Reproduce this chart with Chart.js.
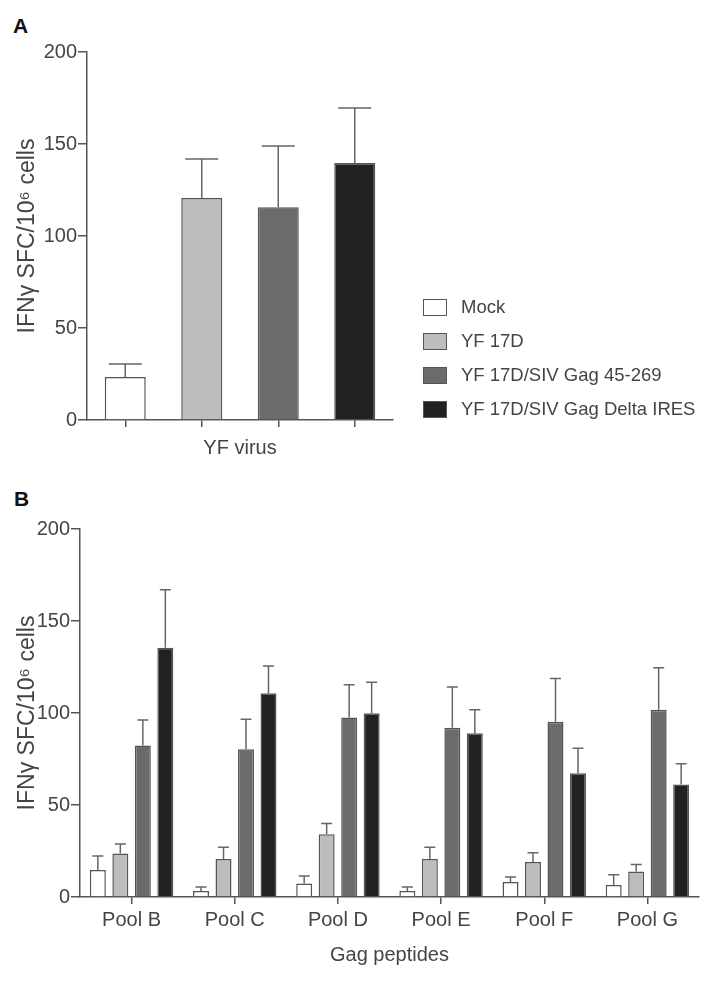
<!DOCTYPE html>
<html>
<head>
<meta charset="utf-8">
<script src="https://cdn.jsdelivr.net/npm/chart.js@4.4.1/dist/chart.umd.min.js"></script>
<style>
  body { margin: 0; background: #fff; font-family: "Liberation Sans", Arial, sans-serif; }
  #wrap { position: relative; width: 714px; height: 981px; }
  canvas { position: absolute; left: 0; }
  .tag { position: absolute; font-weight: bold; font-size: 21px; color: #111; line-height: 1; }
  #legend { position: absolute; left: 423px; top: 290px; }
  .item { display: flex; align-items: center; height: 34px; font-size: 18.5px; color: #444; white-space: nowrap; }
  .box { width: 22px; height: 15px; border: 1.5px solid #555; margin-right: 14px; }
</style>
</head>
<body>
<div id="wrap">
  <div class="tag" style="left:13px; top:15px;">A</div>
  <div class="tag" style="left:14px; top:488px;">B</div>
  <canvas id="chartA" width="714" height="470" style="top:0;"></canvas>
  <canvas id="chartB" width="714" height="511" style="top:470px;"></canvas>
  <div id="legend"></div>
</div>
<script>
// groups / series
const seriesNames = ['Mock', 'YF 17D', 'YF 17D/SIV Gag 45-269', 'YF 17D/SIV Gag Delta IRES'];
const seriesColors = ['#ffffff', '#bdbdbd', '#6b6b6b', '#222222'];
const pools = ['Pool B', 'Pool C', 'Pool D', 'Pool E', 'Pool F', 'Pool G'];
const yTicks = [0, 50, 100, 150, 200];

// panel A: YF virus (mean, SEM)
const aMean = [23.4, 120.7, 115.6, 139.7];
const aSem = [7.0, 21.1, 33.3, 29.8];

// panel B: Gag peptide pools (mean, SEM) per series
const mockMean = [14.7, 3.3, 7.4, 3.3, 8.2, 6.5];
const mockSem = [7.6, 2.1, 4.0, 2.1, 2.7, 5.6];
const yfMean = [23.7, 20.7, 34.1, 20.7, 19.0, 13.8];
const yfSem = [5.1, 6.3, 5.9, 6.3, 5.1, 3.8];
const gag45Mean = [82.4, 80.3, 97.6, 92.0, 95.3, 101.8];
const gag45Sem = [13.8, 16.3, 17.8, 22.1, 23.4, 22.8];
const deltaMean = [135.5, 110.7, 99.8, 89.0, 67.2, 61.2];
const deltaSem = [31.5, 14.8, 16.9, 12.8, 13.6, 11.2];

const axisColor = '#555';
const textColor = '#444';
const yTitle = 'IFNγ SFC/10⁶ cells';

// upper error bars with caps
const errorBars = {
  id: 'errorBars',
  afterDatasetsDraw(chart, args, opts) {
    const ctx = chart.ctx;
    const y = chart.scales.y;
    ctx.save();
    ctx.strokeStyle = '#666';
    ctx.lineWidth = 1.5;
    chart.data.datasets.forEach((ds, i) => {
      chart.getDatasetMeta(i).data.forEach((bar, j) => {
        const top = y.getPixelForValue(ds.data[j] + ds.sem[j]);
        ctx.beginPath();
        ctx.moveTo(bar.x, bar.y);
        ctx.lineTo(bar.x, top);
        ctx.moveTo(bar.x - opts.cap / 2, top);
        ctx.lineTo(bar.x + opts.cap / 2, top);
        ctx.stroke();
      });
    });
    ctx.restore();
  }
};

function yScale(width) {
  return {
    min: 0, max: 200,
    afterBuildTicks: s => { s.ticks = yTicks.map(v => ({ value: v })); },
    afterFit: s => { s.width = width; },
    ticks: { color: textColor, font: { size: 20 }, padding: 1 },
    grid: { drawOnChartArea: false, tickLength: 9, color: axisColor, lineWidth: 1.5 },
    border: { color: axisColor, width: 1.5 },
    title: { display: true, text: yTitle, color: textColor, font: { size: 23 }, padding: { top: 14 } }
  };
}

function xScale(height, title, showLabels, titlePad) {
  return {
    offset: true,
    afterFit: s => { s.height = height; },
    ticks: { display: showLabels, color: textColor, font: { size: 20 }, padding: 4, maxRotation: 0 },
    grid: { offset: false, drawOnChartArea: false, tickLength: 7, color: axisColor, lineWidth: 1.5 },
    border: { color: axisColor, width: 1.5 },
    title: { display: true, text: title, color: textColor, font: { size: 20 }, padding: { bottom: titlePad } }
  };
}

new Chart(document.getElementById('chartA'), {
  type: 'bar',
  data: {
    labels: seriesNames,
    datasets: [{
      data: aMean, sem: aSem,
      backgroundColor: seriesColors, borderColor: axisColor, borderWidth: 1.5,
      categoryPercentage: 1.0, barPercentage: 0.536
    }]
  },
  options: {
    responsive: false, animation: false,
    layout: { padding: { top: 52, right: 321, bottom: 0, left: 0 } },
    plugins: { legend: { display: false }, tooltip: { enabled: false }, errorBars: { cap: 33 } },
    scales: { x: xScale(50, 'YF virus', false, 10), y: yScale(87) }
  },
  plugins: [errorBars]
});

const bMeans = [mockMean, yfMean, gag45Mean, deltaMean];
const bSems = [mockSem, yfSem, gag45Sem, deltaSem];

new Chart(document.getElementById('chartB'), {
  type: 'bar',
  data: {
    labels: pools,
    datasets: seriesNames.map((name, i) => ({
      label: name, data: bMeans[i], sem: bSems[i],
      backgroundColor: seriesColors[i], borderColor: axisColor, borderWidth: 1.5,
      categoryPercentage: 0.872, barPercentage: 0.71
    }))
  },
  options: {
    responsive: false, animation: false,
    layout: { padding: { top: 59, right: 15, bottom: 0, left: 0 } },
    plugins: { legend: { display: false }, tooltip: { enabled: false }, errorBars: { cap: 11 } },
    scales: { x: xScale(84, 'Gag peptides', true, 14), y: yScale(80) }
  },
  plugins: [errorBars]
});

// legend for panel A
const legend = document.getElementById('legend');
seriesNames.forEach((name, i) => {
  const item = document.createElement('div');
  item.className = 'item';
  const box = document.createElement('span');
  box.className = 'box';
  box.style.background = seriesColors[i];
  item.appendChild(box);
  item.appendChild(document.createTextNode(name));
  legend.appendChild(item);
});
</script>
</body>
</html>
